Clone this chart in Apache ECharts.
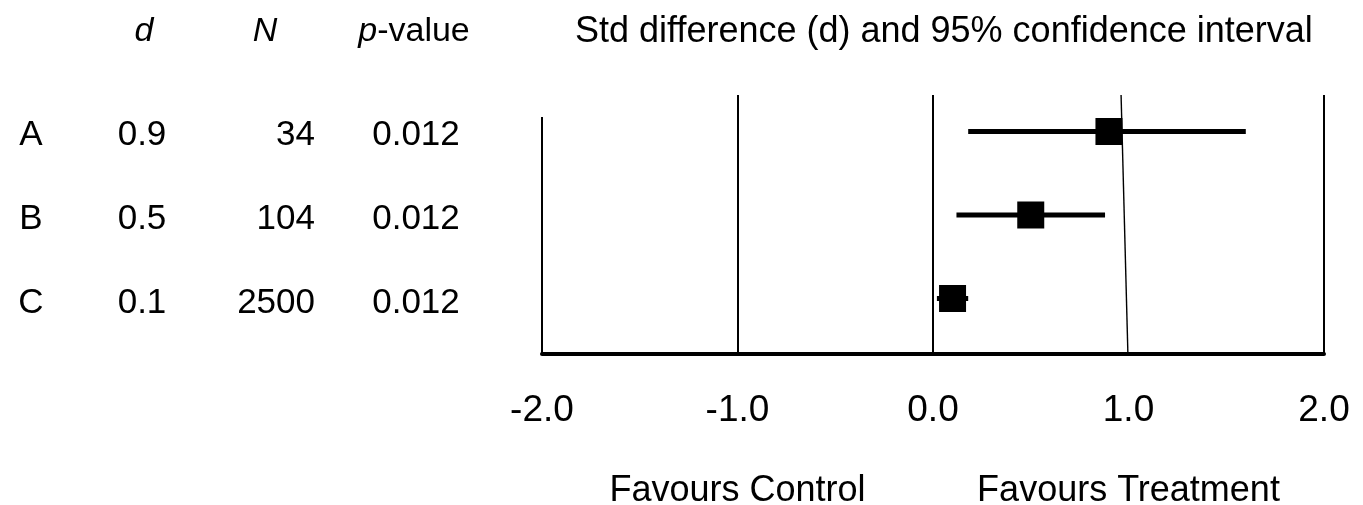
<!DOCTYPE html>
<html>
<head>
<meta charset="utf-8">
<script src="https://cdn.jsdelivr.net/npm/echarts@6/dist/echarts.min.js"></script>
<style>
  html, body { margin: 0; padding: 0; background: #fff; }
  #forest { width: 1363px; height: 505px; }
</style>
</head>
<body>
<div id="forest"></div>
<script>
// study table
var studies = ['A', 'B', 'C'];
var dValues = [0.9, 0.5, 0.1];
var nValues = [34, 104, 2500];
var pValues = ['0.012', '0.012', '0.012'];

// 95% confidence interval
var ciLow = [0.18, 0.12, 0.02];
var ciHigh = [1.6, 0.88, 0.18];

// x axis
var xTicks = [-2, -1, 0, 1, 2];
var refLines = [-1, 0, 2];
var favourLabels = [{ x: -1, text: 'Favours Control' }, { x: 1, text: 'Favours Treatment' }];

var FONT = 'Liberation Sans, Arial, sans-serif';

// row axes
var yMin = -0.4371, yMax = 2.6647;
var tMin = -1.6071, tMax = 2.6071, headerRow = -1.23;

var chart = echarts.init(document.getElementById('forest'));

function textCol(name, values, xPos, pos) {
    return {
        name: name,
        type: 'scatter',
        xAxisIndex: 1,
        yAxisIndex: 1,
        symbolSize: 0,
        silent: true,
        clip: false,
        itemStyle: { opacity: 1 },
        data: values.map(function (v, i) { return { value: [xPos, i], text: String(v) }; }),
        label: {
            show: true,
            position: pos || 'inside',
            distance: 0,
            formatter: function (p) { return p.data.text; },
            color: '#000',
            fontFamily: FONT,
            fontSize: 35
        }
    };
}

var option = {
    animation: false,
    backgroundColor: '#fff',
    title: {
        text: 'Std difference (d) and 95% confidence interval',
        left: 570,
        top: 9,
        textStyle: { color: '#000', fontFamily: FONT, fontSize: 36, fontWeight: 'normal' }
    },
    grid: [
        { left: 542, right: 39, top: 95, bottom: 151 },
        { left: 0, width: 500, top: 0, bottom: 151 }
    ],
    xAxis: [
        {
            type: 'value',
            gridIndex: 0,
            min: -2,
            max: 2,
            interval: 1,
            axisLine: { show: true, onZero: false, lineStyle: { color: '#000', width: 4 } },
            axisTick: { show: false },
            splitLine: { show: false },
            axisLabel: {
                color: '#000',
                fontFamily: FONT,
                fontSize: 37,
                margin: 38,
                showMinLabel: true,
                showMaxLabel: true,
                formatter: function (v) { return v.toFixed(1); }
            }
        },
        { type: 'value', gridIndex: 1, min: 0, max: 500, show: false }
    ],
    yAxis: [
        { type: 'value', gridIndex: 0, min: yMin, max: yMax, inverse: true, show: false },
        { type: 'value', gridIndex: 1, min: tMin, max: tMax, inverse: true, show: false }
    ],
    series: [
        {
            name: 'refs',
            type: 'line',
            data: [],
            markLine: {
                silent: true,
                symbol: 'none',
                label: { show: false },
                lineStyle: { color: '#000', width: 2, type: 'solid' },
                data: refLines.map(function (v) { return { xAxis: v }; })
            }
        },
        {
            name: 'leftEdge',
            type: 'line',
            symbol: 'none',
            silent: true,
            lineStyle: { color: '#000', width: 2 },
            data: [[-2, -0.1737], [-2, yMax]]
        },
        {
            name: 'noEffect',
            type: 'line',
            symbol: 'none',
            silent: true,
            lineStyle: { color: '#000', width: 1.4 },
            data: [[0.962, yMin], [0.997, yMax]]
        },
        {
            name: 'ci',
            type: 'custom',
            silent: true,
            renderItem: function (params, api) {
                var a = api.coord([api.value(0), api.value(2)]);
                var b = api.coord([api.value(1), api.value(2)]);
                return {
                    type: 'line',
                    shape: { x1: a[0], y1: a[1], x2: b[0], y2: b[1] },
                    style: { stroke: '#000', lineWidth: 5 }
                };
            },
            encode: { x: [0, 1], y: 2 },
            data: studies.map(function (s, i) { return [ciLow[i], ciHigh[i], i]; })
        },
        {
            name: 'd',
            type: 'scatter',
            symbol: 'rect',
            symbolSize: 27,
            silent: true,
            z: 5,
            itemStyle: { color: '#000', opacity: 1 },
            data: dValues.map(function (d, i) { return [d, i]; })
        },
        {
            name: 'favours',
            type: 'scatter',
            symbolSize: 0,
            silent: true,
            clip: false,
            itemStyle: { opacity: 1 },
            data: favourLabels.map(function (f) { return { value: [f.x, 4.31], text: f.text }; }),
            label: {
                show: true,
                position: 'inside',
                formatter: function (p) { return p.data.text; },
                color: '#000',
                fontFamily: FONT,
                fontSize: 36
            }
        },
        textCol('study', studies, 31),
        textCol('dCol', dValues.map(function (d) { return d.toFixed(1); }), 142),
        textCol('nCol', nValues, 315, 'left'),
        textCol('pCol', pValues, 416),
        {
            name: 'header',
            type: 'scatter',
            xAxisIndex: 1,
            yAxisIndex: 1,
            symbolSize: 0,
            silent: true,
            clip: false,
            itemStyle: { opacity: 1 },
            data: [
                { value: [144, headerRow], text: '{i|d}' },
                { value: [265, headerRow], text: '{i|N}' },
                { value: [414, headerRow], text: '{i|p}-value' }
            ],
            label: {
                show: true,
                position: 'inside',
                formatter: function (p) { return p.data.text; },
                color: '#000',
                fontFamily: FONT,
                fontSize: 34,
                rich: {
                    i: { fontStyle: 'italic', fontFamily: FONT, fontSize: 34, color: '#000' }
                }
            }
        }
    ]
};

chart.setOption(option);
</script>
</body>
</html>
